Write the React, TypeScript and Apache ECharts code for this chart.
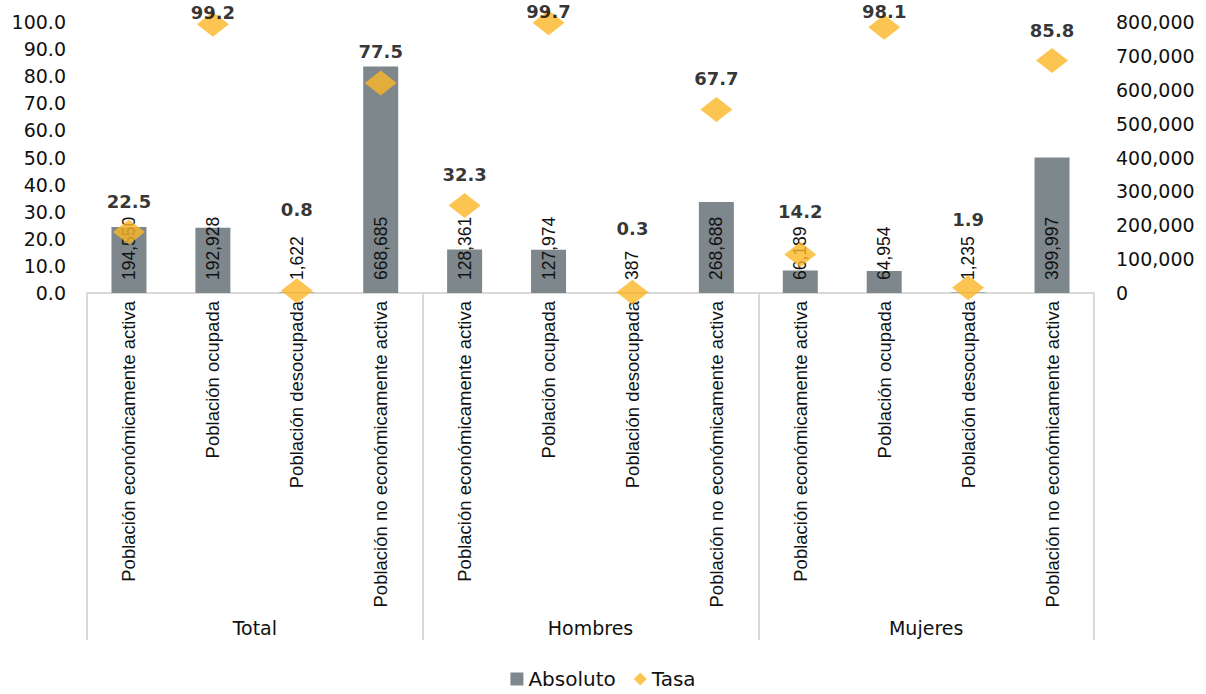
import React, { useEffect, useRef } from "react";
import * as echarts from "echarts";

const indicators = [
  "Población económicamente activa",
  "Población ocupada",
  "Población desocupada",
  "Población no económicamente activa",
];
const groups = ["Total", "Hombres", "Mujeres"];
const categories = groups.flatMap(() => indicators);

const absoluto = [194550, 192928, 1622, 668685, 128361, 127974, 387, 268688, 66189, 64954, 1235, 399997];
const tasa = [22.5, 99.2, 0.8, 77.5, 32.3, 99.7, 0.3, 67.7, 14.2, 98.1, 1.9, 85.8];

const leftAxis = { min: 0, max: 100, interval: 10 };
const rightAxis = { min: 0, max: 800000, interval: 100000 };

// vertical distance (px) between each rate label and its diamond
const tasaLabelRise = [31, 12, 81, 31, 31, 11, 64, 31, 43, 16, 68, 30];

const H_FONT = "DejaVu Sans";
const R_FONT = "Liberation Sans";
const GRAY = "#7d878c";
const GOLD = "#fbb726";
const SEP = "#d9d9d9";
const TEXT = "#111111";

export default function App() {
  const ref = useRef<HTMLDivElement>(null);

  useEffect(() => {
    if (!ref.current) return;
    const chart = echarts.init(ref.current, undefined, { renderer: "svg" });
    const fmt = (v: number) => v.toLocaleString("en-US");
    chart.setOption({
      animation: false,
      backgroundColor: "#ffffff",
      grid: { left: 87, right: 112, top: 22, bottom: 401, containLabel: false },
      legend: {
        bottom: 0,
        left: "center",
        itemWidth: 13,
        itemHeight: 13,
        itemGap: 18,
        textStyle: { fontFamily: H_FONT, fontSize: 20, color: TEXT },
        data: [
          { name: "Absoluto", icon: "rect" },
          { name: "Tasa", icon: "diamond" },
        ],
      },
      xAxis: [
        {
          type: "category",
          data: categories,
          axisLine: { show: true, lineStyle: { color: SEP, width: 2 } },
          axisTick: { show: false },
          axisLabel: {
            interval: 0,
            rotate: 90,
            margin: 8,
            fontFamily: R_FONT,
            fontSize: 18.5,
            color: TEXT,
          },
        },
        {
          type: "category",
          data: groups,
          position: "bottom",
          axisLine: { show: false },
          axisTick: { show: true, length: 347, lineStyle: { color: SEP, width: 2 } },
          axisLabel: {
            interval: 0,
            margin: 325,
            fontFamily: H_FONT,
            fontSize: 19,
            color: TEXT,
          },
        },
      ],
      yAxis: [
        {
          type: "value",
          min: leftAxis.min,
          max: leftAxis.max,
          interval: leftAxis.interval,
          splitLine: { show: false },
          axisLine: { show: false },
          axisTick: { show: false },
          axisLabel: {
            margin: 21,
            formatter: (v: number) => v.toFixed(1),
            fontFamily: H_FONT,
            fontSize: 19,
            color: TEXT,
          },
        },
        {
          type: "value",
          position: "right",
          min: rightAxis.min,
          max: rightAxis.max,
          interval: rightAxis.interval,
          splitLine: { show: false },
          axisLine: { show: false },
          axisTick: { show: false },
          axisLabel: {
            margin: 22,
            formatter: fmt,
            fontFamily: H_FONT,
            fontSize: 19,
            color: TEXT,
          },
        },
      ],
      series: [
        {
          name: "Absoluto",
          type: "bar",
          xAxisIndex: 0,
          yAxisIndex: 1,
          barWidth: 35,
          itemStyle: { color: GRAY },
          data: absoluto,
          z: 2,
          label: {
            show: true,
            position: "insideBottom",
            distance: 13,
            rotate: 90,
            align: "left",
            verticalAlign: "middle",
            formatter: (p: any) => fmt(p.value),
            fontFamily: R_FONT,
            fontSize: 17.5,
            color: "#111111",
            textBorderWidth: 0,
          },
        },
        {
          name: "Tasa",
          type: "scatter",
          xAxisIndex: 0,
          yAxisIndex: 0,
          symbol: "diamond",
          symbolSize: [32, 25],
          itemStyle: { color: GOLD },
          z: 3,
          data: tasa.map((v, i) => ({
            value: v,
            label: { offset: [0, -tasaLabelRise[i]] },
          })),
          label: {
            show: true,
            position: "inside",
            formatter: (p: any) => p.value.toFixed(1),
            fontFamily: H_FONT,
            fontWeight: "bold",
            fontSize: 18,
            color: "#000000",
            textBorderWidth: 0,
          },
        },
      ],
    });
    return () => chart.dispose();
  }, []);

  return (
    <div
      ref={ref}
      style={{ position: "fixed", left: 0, top: 0, width: 1206, height: 694, background: "#fff" }}
    />
  );
}
